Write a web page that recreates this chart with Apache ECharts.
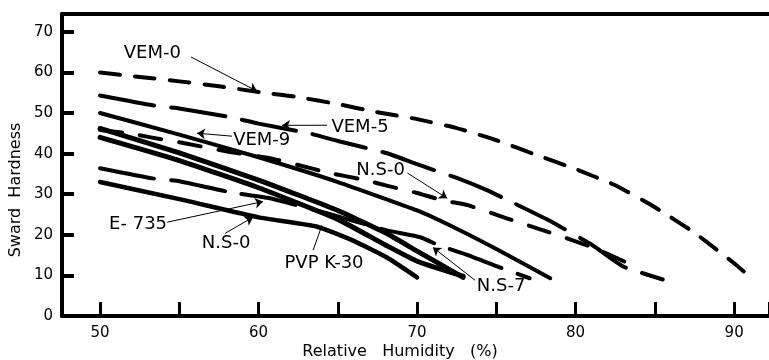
<!DOCTYPE html>
<html>
<head>
<meta charset="utf-8">
<script src="https://cdn.jsdelivr.net/npm/echarts@6/dist/echarts.min.js"></script>
<style>
  html, body { margin: 0; padding: 0; background: #fff; }
  #chart { width: 769px; height: 360px; }
</style>
</head>
<body>
<div id="chart"></div>
<script>
// Tick labels shown on the axes
const xTickLabels = [50, 60, 70, 80, 90];
const yTickLabels = [0, 10, 20, 30, 40, 50, 60, 70];

// Sward hardness against relative humidity (%), one array per film
const vem0 = [[50,60],[52.5,58.9],[55,57.8],[57.5,56.6],[60,55.2],[62.5,53.9],[65,52.2],[67.5,50.2],[70,48.5],[72.5,46.3],[75,43.3],[77.5,39.7],[80,36.2],[82.5,32.2],[85,26.8],[87.5,20.5],[90,13],[91.1,9.3]];
const vem5 = [[50,54.3],[53.3,51.9],[55,51.1],[58.2,49],[60,47.4],[63.2,45],[65,43.1],[68.1,40.1],[70,37.4],[72.5,34],[74.4,31],[76,28],[78.3,23.6],[81,17.6],[83,12.2],[85.5,9]];
const vem9 = [[50,45.8],[51.8,45],[53.2,44],[55,42.8],[58.2,40.4],[60.7,38.9],[62.5,37.2],[64.3,35.4],[66.8,33.4],[68.2,32],[70,30.3],[71.6,28.5],[73.2,27.3],[75.7,24],[78.2,20.8],[81,17],[83.2,13.2]];
const e735 = [[50,36.4],[53.3,33.9],[55,33.2],[58.2,30.5],[60.7,29],[64.3,25.3],[68.1,21.1],[70.2,19.4],[71.5,17.2],[73.2,15],[75.2,12],[77.1,9.3]];
const nsUpper = [[50,50],[55,44.7],[60,39.1],[65,33],[70,26],[72.5,21.5],[75,16.5],[78.4,9.3]];
const ns7 = [[50,46.2],[55,40.2],[60,33.5],[65,26],[68,20.5],[70,16],[72.9,9.5]];
const pvp = [[50,44],[55,38.3],[60,31.6],[65,23.8],[68,17.5],[70,13.5],[72.9,9.8]];
const nsLower = [[50,33],[55,28.8],[60,24.3],[63.7,22],[66,18.5],[68.1,14.4],[70,9.5]];

// Curve labels: text, label centre, arrow tail, arrow tip (data units)
const labelNames = ['VEM-0', 'VEM-5', 'VEM-9', 'N.S-0', 'E- 735', 'N.S-0', 'N.S-7'];
const labelPos   = [[53.3,64.75],[66.4,46.5],[60.2,43.3],[67.7,35.9],[52.4,22.7],[57.95,18.0],[75.3,7.3]];
const arrowFrom  = [[55.74,63.8],[64.32,47.0],[58.33,44.3],[69.4,35.2],[54.23,23.1],[57.9,20.4],[73.66,8.8]];
const arrowTip   = [[59.9,55.4],[61.48,46.97],[56.12,45.04],[71.9,29.0],[60.28,28.2],[59.65,24.33],[71.0,16.9]];
const pointerName = 'PVP K-30';
const pointerPos  = [64.13, 13.0];
const pointerLine = [[63.44,16.2],[64.0,22.36]];

const FONT = '"DejaVu Sans", sans-serif';
const chart = echarts.init(document.getElementById('chart'), null, { renderer: 'canvas' });

function curve(data, width, dash) {
  return {
    type: 'line', data: data, showSymbol: false, smooth: 0.15, silent: true,
    lineStyle: { color: '#000', width: width, type: dash || 'solid', cap: 'round', join: 'round' },
    z: 3
  };
}

chart.setOption({
  animation: false,
  backgroundColor: '#fff',
  grid: { left: 62, right: 0, top: 14, bottom: 44, containLabel: false, outerBoundsMode: 'none' },
  xAxis: [{
    type: 'value', min: 47.6, max: 92.2, splitNumber: 9,
    axisLine: { lineStyle: { color: '#000', width: 4 } },
    axisTick: { inside: true, length: 14, lineStyle: { color: '#000', width: 3 } },
    axisLabel: {
      color: '#000', fontSize: 15, fontFamily: FONT, margin: 10,
      formatter: v => xTickLabels.indexOf(Math.round(v * 100) / 100) >= 0 ? String(v) : ''
    },
    splitLine: { show: false }
  }, {
    type: 'value', position: 'top', min: 47.6, max: 92.2,
    axisLine: { lineStyle: { color: '#000', width: 4 } },
    axisTick: { show: false }, axisLabel: { show: false }, splitLine: { show: false }
  }],
  yAxis: {
    type: 'value', min: 0, max: 74.4, interval: 10,
    axisLine: { show: true, lineStyle: { color: '#000', width: 4 } },
    axisTick: { show: true, inside: true, length: 12, lineStyle: { color: '#000', width: 4 } },
    axisLabel: {
      color: '#000', fontSize: 15, fontFamily: FONT, margin: 9,
      formatter: v => yTickLabels.indexOf(Math.round(v * 100) / 100) >= 0 ? String(v) : ''
    },
    splitLine: { show: false }
  },
  series: [
    curve(vem0, 4, [20, 15]),
    curve(vem5, 4, [55, 17]),
    curve(vem9, 4, [22, 18]),
    curve(e735, 4, [55, 17]),
    curve(nsUpper, 4),
    curve(ns7, 5),
    curve(pvp, 5),
    curve(nsLower, 4.5),
    {
      type: 'lines', coordinateSystem: 'cartesian2d', silent: true, z: 5,
      symbol: ['none', 'arrow'], symbolSize: 8,
      lineStyle: { color: '#000', width: 1, opacity: 1 },
      data: arrowFrom.map((p, i) => ({ coords: [p, arrowTip[i]] }))
    },
    {
      type: 'lines', coordinateSystem: 'cartesian2d', silent: true, z: 5,
      symbol: ['none', 'none'],
      lineStyle: { color: '#000', width: 1, opacity: 1 },
      data: [{ coords: pointerLine }]
    },
    {
      type: 'scatter', symbolSize: 0, silent: true, z: 6,
      itemStyle: { opacity: 1 },
      data: labelNames.map((n, i) => [labelPos[i][0], labelPos[i][1], n])
        .concat([[pointerPos[0], pointerPos[1], pointerName]]),
      label: {
        show: true, position: 'inside', formatter: p => p.data[2],
        color: '#000', opacity: 1, fontSize: 18, fontFamily: FONT
      }
    }
  ],
  graphic: [
    {
      type: 'text', x: 400, y: 352,
      style: { text: 'Relative   Humidity   (%)', font: '16px ' + FONT, fill: '#000', textAlign: 'center', textVerticalAlign: 'middle' }
    },
    {
      type: 'text', x: 16, y: 190, rotation: Math.PI / 2,
      style: { text: 'Sward  Hardness', font: '16px ' + FONT, fill: '#000', textAlign: 'center', textVerticalAlign: 'middle' }
    }
  ]
});
</script>
</body>
</html>
